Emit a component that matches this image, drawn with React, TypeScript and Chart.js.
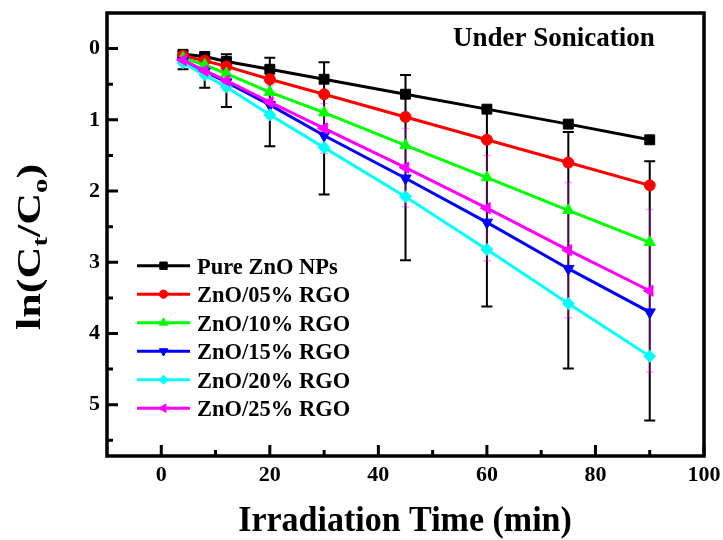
import React, { useEffect, useRef } from 'react';
import { Chart, registerables } from 'chart.js';
import { drawPoint } from 'chart.js/helpers';

Chart.register(...registerables);

// ---- data ----
const times = [4, 8, 12, 20, 30, 45, 60, 75, 90];
const pureZnO = [0.08, 0.11, 0.18, 0.29, 0.43, 0.64, 0.85, 1.06, 1.28];
const znO05 = [0.1, 0.17, 0.25, 0.43, 0.64, 0.96, 1.28, 1.6, 1.92];
const znO10 = [0.13, 0.23, 0.35, 0.61, 0.9, 1.36, 1.81, 2.27, 2.72];
const znO15 = [0.17, 0.32, 0.47, 0.79, 1.22, 1.82, 2.44, 3.09, 3.7];
const znO20 = [0.2, 0.37, 0.54, 0.93, 1.39, 2.08, 2.82, 3.58, 4.32];
const znO25 = [0.16, 0.31, 0.45, 0.75, 1.12, 1.67, 2.24, 2.83, 3.4];
// error bars (centred on the ZnO/25% RGO series)
const errBlack = [0.13, 0.24, 0.37, 0.62, 0.93, 1.3, 1.38, 1.66, 1.82];
const errMagenta = [0.05, 0.09, 0.14, 0.23, 0.35, 0.55, 0.74, 0.95, 1.14];

const seriesLabels = ['Pure ZnO NPs', 'ZnO/05% RGO', 'ZnO/10% RGO', 'ZnO/15% RGO', 'ZnO/20% RGO', 'ZnO/25% RGO'];
const seriesValues = [pureZnO, znO05, znO10, znO15, znO20, znO25];
const seriesColors = ['#000000', '#ff0000', '#00ff00', '#0000ff', '#00ffff', '#ff00ff'];
const seriesStyles = ['rect', 'circle', 'triangle', 'triangle', 'rectRot', 'triangle'];
const seriesRotations = [0, 0, 0, 180, 0, -90];
const seriesRadius = [7, 5.5, 6.5, 6.5, 6, 6.5];

const xTickValues = [0, 20, 40, 60, 80, 100];
const yTickValues = [0, 1, 2, 3, 4, 5];
const xMin = -10, xMax = 100;
const yMin = -0.5, yMax = 5.72;
const xTitle = 'Irradiation Time (min)';
const plotTitle = 'Under Sonication';

const FONT = '"Liberation Serif", "Times New Roman", serif';

const zeroPad = (s: any) => {
  s.paddingTop = 0; s.paddingBottom = 0; s.paddingLeft = 0; s.paddingRight = 0;
};

const decorPlugin = {
  id: 'decor',
  beforeDatasetsDraw(chart: any) {
    const ctx = chart.ctx;
    const xs = chart.scales.x, ys = chart.scales.y;
    ctx.save();
    const drawBars = (errs: number[], color: string, lw: number, cap: number) => {
      ctx.strokeStyle = color;
      ctx.lineWidth = lw;
      for (let i = 0; i < times.length; i++) {
        const px = xs.getPixelForValue(times[i]);
        const y1 = ys.getPixelForValue(znO25[i] - errs[i]);
        const y2 = ys.getPixelForValue(znO25[i] + errs[i]);
        ctx.beginPath();
        ctx.moveTo(px, y1); ctx.lineTo(px, y2);
        ctx.moveTo(px - cap, y1); ctx.lineTo(px + cap, y1);
        ctx.moveTo(px - cap, y2); ctx.lineTo(px + cap, y2);
        ctx.stroke();
      }
    };
    drawBars(errBlack, '#000000', 2, 5.5);
    drawBars(errMagenta, 'rgba(255,0,255,0.35)', 1.5, 4);
    ctx.restore();
  },
  afterDraw(chart: any) {
    const ctx = chart.ctx;
    const { left, right, top, bottom } = chart.chartArea;
    const xs = chart.scales.x, ys = chart.scales.y;
    ctx.save();
    // frame
    ctx.strokeStyle = '#000';
    ctx.lineWidth = 3.5;
    ctx.lineJoin = 'miter';
    ctx.strokeRect(left, top, right - left, bottom - top);
    // ticks (inward)
    ctx.lineWidth = 3;
    const xv = xs.ticks.map((t: any) => t.value);
    const xMinor: number[] = [];
    for (let i = 0; i < xv.length - 1; i++) xMinor.push((xv[i] + xv[i + 1]) / 2);
    ctx.beginPath();
    xv.forEach((v: number) => { const p = xs.getPixelForValue(v); ctx.moveTo(p, bottom); ctx.lineTo(p, bottom - 11); });
    xMinor.forEach((v: number) => { const p = xs.getPixelForValue(v); ctx.moveTo(p, bottom); ctx.lineTo(p, bottom - 6); });
    const yv = ys.ticks.map((t: any) => t.value);
    const yMinor: number[] = [];
    for (let i = 0; i < yv.length - 1; i++) yMinor.push((yv[i] + yv[i + 1]) / 2);
    yMinor.push(yv[yv.length - 1] + 0.5);
    yv.forEach((v: number) => { const p = ys.getPixelForValue(v); ctx.moveTo(left, p); ctx.lineTo(left + 11, p); });
    yMinor.forEach((v: number) => { const p = ys.getPixelForValue(v); ctx.moveTo(left, p); ctx.lineTo(left + 6, p); });
    ctx.stroke();

    // legend
    chart.data.datasets.forEach((ds: any, i: number) => {
      const y = 265.7 + 28.5 * i;
      ctx.strokeStyle = ds.borderColor;
      ctx.fillStyle = ds.backgroundColor;
      ctx.lineWidth = 3;
      ctx.beginPath();
      ctx.moveTo(137, y); ctx.lineTo(190, y);
      ctx.stroke();
      ctx.lineWidth = 1;
      drawPoint(ctx, { pointStyle: ds.pointStyle, rotation: ds.pointRotation, radius: ds.pointRadius * 0.75, borderWidth: 1 }, 163.5, y);
      ctx.fillStyle = '#000';
      ctx.font = `bold 22.5px ${FONT}`;
      ctx.textAlign = 'left';
      ctx.textBaseline = 'alphabetic';
      ctx.fillText(ds.label, 197, y + 8);
    });

    // plot title
    ctx.fillStyle = '#000';
    ctx.font = `bold 27px ${FONT}`;
    ctx.textAlign = 'left';
    ctx.textBaseline = 'alphabetic';
    ctx.fillText(plotTitle, 453, 45.7);

    // x title
    ctx.save();
    ctx.translate(405, 531);
    ctx.scale(1, 1.05);
    ctx.font = `bold 34px ${FONT}`;
    ctx.textAlign = 'center';
    ctx.fillText(xTitle, 0, 0);
    ctx.restore();

    // y title with subscripts: ln(Ct/Co)
    ctx.save();
    ctx.translate(40, 247);
    ctx.rotate(-Math.PI / 2);
    ctx.scale(1.3, 1);
    const big = `bold 34px ${FONT}`;
    const small = `bold 22px ${FONT}`;
    const parts: [string, boolean][] = [['ln(C', false], ['t', true], ['/C', false], ['o', true], [')', false]];
    let total = 0;
    parts.forEach(([s, sub]) => { ctx.font = sub ? small : big; total += ctx.measureText(s).width; });
    let x = -total / 2;
    ctx.textAlign = 'left';
    parts.forEach(([s, sub]) => {
      ctx.font = sub ? small : big;
      ctx.fillText(s, x, sub ? 7 : 0);
      x += ctx.measureText(s).width;
    });
    ctx.restore();

    ctx.restore();
  },
};

export default function App() {
  const ref = useRef<HTMLCanvasElement | null>(null);
  useEffect(() => {
    if (!ref.current) return;
    const datasets = seriesLabels.map((label, i) => ({
      label,
      data: times.map((t, k) => ({ x: t, y: seriesValues[i][k] })),
      borderColor: seriesColors[i],
      backgroundColor: seriesColors[i],
      borderWidth: 3,
      pointStyle: seriesStyles[i],
      pointRotation: seriesRotations[i],
      pointRadius: seriesRadius[i],
      pointBorderWidth: 1,
      order: seriesLabels.length - i,
    }));
    const chart = new Chart(ref.current, {
      type: 'line',
      data: { datasets },
      options: {
        animation: false,
        responsive: false,
        devicePixelRatio: 1,
        layout: { padding: { top: 13, right: 19, left: 0, bottom: 0 } },
        plugins: { legend: { display: false }, tooltip: { enabled: false }, title: { display: false } },
        scales: {
          x: {
            type: 'linear',
            min: xMin,
            max: xMax,
            grid: { display: false, drawTicks: false },
            border: { display: false },
            ticks: { color: '#000', padding: 6, maxRotation: 0, autoSkip: false, font: { family: FONT, size: 22, weight: 'bold' } },
            afterBuildTicks: (s: any) => { s.ticks = xTickValues.map((v) => ({ value: v })); },
            afterFit: (s: any) => { s.height = 84; zeroPad(s); },
          },
          y: {
            type: 'linear',
            reverse: true,
            min: yMin,
            max: yMax,
            grid: { display: false, drawTicks: false },
            border: { display: false },
            ticks: { color: '#000', padding: 7, autoSkip: false, font: { family: FONT, size: 22, weight: 'bold' } },
            afterBuildTicks: (s: any) => { s.ticks = yTickValues.map((v) => ({ value: v })); },
            afterFit: (s: any) => { s.width = 107; zeroPad(s); },
          },
        },
      },
      plugins: [decorPlugin],
    } as any);
    return () => chart.destroy();
  }, []);
  return (
    <div style={{ position: 'fixed', left: 0, top: 0, width: 723, height: 540, background: '#fff' }}>
      <canvas ref={ref} width={723} height={540} />
    </div>
  );
}
